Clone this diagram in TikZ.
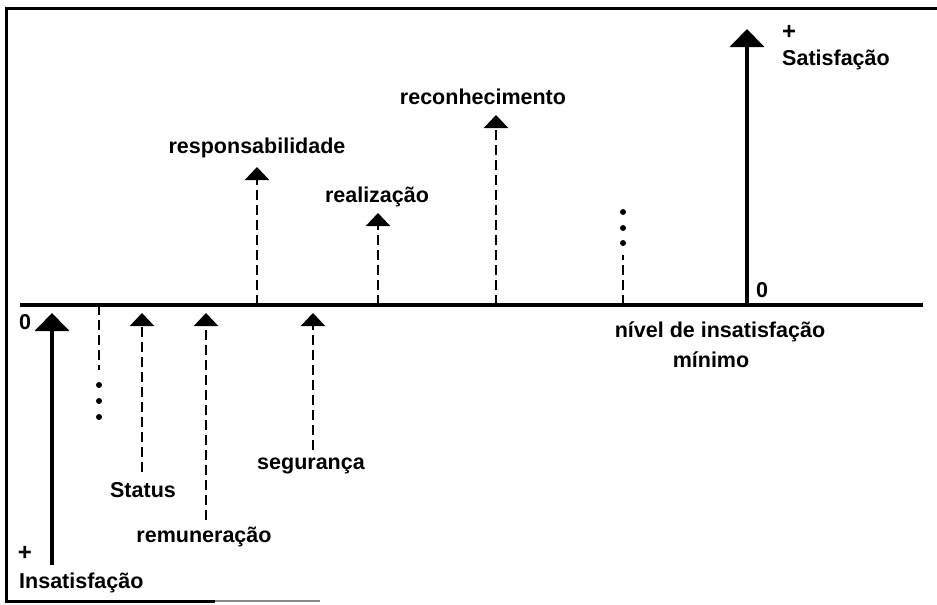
\documentclass[tikz,border=0pt]{standalone}
\usepackage{fontspec}
\setmainfont{Liberation Sans}
\usetikzlibrary{arrows.meta}
\begin{document}
\begin{tikzpicture}[x=1pt,y=-1pt,
  lbl/.style={font=\fontsize{21.5}{24}\selectfont\bfseries, inner sep=0pt},
  plus/.style={font=\fontsize{24}{26}\selectfont\bfseries, inner sep=0pt},
  dasharrow/.style={line width=2.3pt, dash pattern=on 10pt off 5pt, -{Triangle[width=24pt,length=13pt]}},
  bigarrow/.style={line width=4pt, -{Triangle[width=34pt,length=18pt]}},
  dashline/.style={line width=2.3pt, dash pattern=on 10pt off 5pt},
  dotmark/.style={circle, fill, inner sep=0pt, minimum size=6pt}]
\useasboundingbox (0,0) rectangle (937,605);
% frame
\draw[line width=3pt] (937,8) -- (6,8) -- (6,601) -- (215,601);
\draw[line width=2pt, black!45] (215,601) -- (320,601);
% axis
\coordinate (axL) at (20,305);
\coordinate (axR) at (923,305);
\draw[line width=3.5pt] (axL) -- (axR);
% satisfaction axis
\coordinate (sB) at (747,305);
\coordinate (sT) at (747,29);
\draw[bigarrow] (sB) -- (sT);
\node[plus] (splus) at (789,32) {+};
\node[lbl, anchor=west] (stxt) at (782,60) {Satisfação};
\node[lbl] (szero) at (762,290) {0};
% dissatisfaction axis
\coordinate (iB) at (52,565);
\coordinate (iT) at (52,313);
\draw[bigarrow] (iB) -- (iT);
\node[lbl] (izero) at (25,322) {0};
\node[plus] (iplus) at (25,553) {+};
\node[lbl, anchor=west] (itxt) at (19,583) {Insatisfação};
% above-axis factors
\coordinate (respB) at (257,305); \coordinate (respT) at (257,167);
\draw[dasharrow] (respB) -- (respT);
\node[lbl] (resp) at (257,148) {responsabilidade};
\coordinate (realB) at (378,305); \coordinate (realT) at (378,213);
\draw[dasharrow] (realB) -- (realT);
\node[lbl] (real) at (377,197) {realização};
\coordinate (recB) at (496,305); \coordinate (recT) at (496,115);
\draw[dasharrow] (recB) -- (recT);
\node[lbl] (rec) at (483,97) {reconhecimento};
% right dotted line
\coordinate (rdB) at (623,305); \coordinate (rdT) at (623,255);
\draw[dashline] (rdB) -- (rdT);
\node[dotmark] (rd1) at (623,243) {};
\node[dotmark] (rd2) at (623,228) {};
\node[dotmark] (rd3) at (623,212) {};
\node[lbl] (niv1) at (720,332) {nível de insatisfação};
\node[lbl] (niv2) at (711,360) {mínimo};
% below-axis factors
\coordinate (ldT) at (99,305); \coordinate (ldB) at (99,370);
\draw[dashline] (ldT) -- (ldB);
\node[dotmark] (ld1) at (99,385) {};
\node[dotmark] (ld2) at (99,401) {};
\node[dotmark] (ld3) at (99,417) {};
\coordinate (stB) at (142,472); \coordinate (stT) at (142,313);
\draw[dasharrow] (stB) -- (stT);
\node[lbl] (status) at (143,490) {Status};
\coordinate (remB) at (206,520); \coordinate (remT) at (206,313);
\draw[dasharrow] (remB) -- (remT);
\node[lbl] (rem) at (204,537) {remuneração};
\coordinate (segB) at (313,450); \coordinate (segT) at (313,313);
\draw[dasharrow] (segB) -- (segT);
\node[lbl] (seg) at (311,466) {segurança};
\end{tikzpicture}
\end{document}
